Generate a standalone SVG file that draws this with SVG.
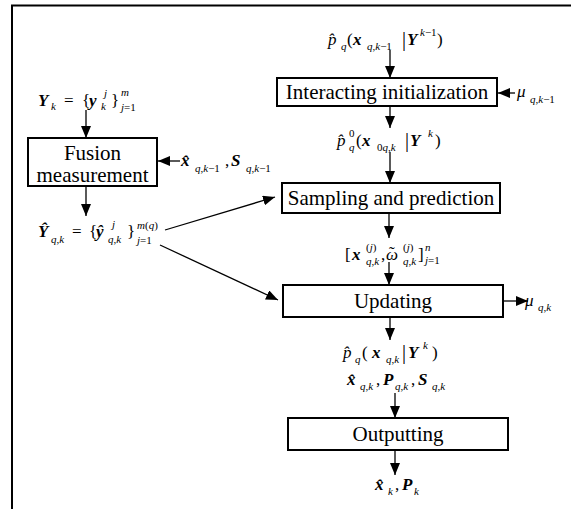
<svg xmlns="http://www.w3.org/2000/svg" width="571" height="509" viewBox="0 0 571 509">
  <style>
    .box { fill: #fff; stroke: #000; stroke-width: 2; }
    .frame { fill: none; stroke: #000; stroke-width: 2; }
    text { font-family: 'Liberation Serif', Tinos, 'Times New Roman', Times, 'DejaVu Serif', serif; fill: #000; }
    .lbl { font-size: 21px; text-anchor: middle; }
    .m { font-size: 17px; }
    .v { font-style: italic; font-weight: bold; }
    .i { font-style: italic; }
    .s { font-size: 11px; font-style: italic; font-weight: normal; }
    .u { font-style: normal; }
    .bar { font-size: 20px; }
    .wire { fill: none; stroke: #000; stroke-width: 1.3; marker-end: url(#head); }
  </style>
  <defs>
    <marker id="head" markerUnits="userSpaceOnUse" markerWidth="12" markerHeight="10" refX="12" refY="5" orient="auto">
      <path d="M0,0 L12,5 L0,10 Z" fill="#000"/>
    </marker>
  </defs>

  <rect width="571" height="509" fill="#fff"/>
  <!-- outer frame, open at right and bottom -->
  <rect class="frame" x="12" y="5.5" width="600" height="600"/>

  <!-- process blocks -->
  <g id="fusion">
    <rect class="box" x="28" y="138" width="129" height="48"/>
    <text class="lbl" x="92.5" y="160">Fusion</text>
    <text class="lbl" x="92.5" y="182">measurement</text>
  </g>
  <g id="interacting">
    <rect class="box" x="277" y="78" width="220" height="28"/>
    <text class="lbl" x="387" y="99">Interacting initialization</text>
  </g>
  <g id="sampling">
    <rect class="box" x="282" y="183" width="218" height="30"/>
    <text class="lbl" x="391" y="205">Sampling and prediction</text>
  </g>
  <g id="updating">
    <rect class="box" x="283" y="285" width="220" height="32"/>
    <text class="lbl" x="393" y="308">Updating</text>
  </g>
  <g id="outputting">
    <rect class="box" x="288" y="418" width="220" height="32"/>
    <text class="lbl" x="398" y="441">Outputting</text>
  </g>

  <!-- connectors -->
  <g id="connectors">
    <path class="wire" d="M86,110 L86,138"/>
    <path class="wire" d="M180,161 L158,161"/>
    <path class="wire" d="M86,186 L86,216"/>
    <path class="wire" d="M165,230 L275,197"/>
    <path class="wire" d="M160,245 L278,300"/>
    <path class="wire" d="M390,50 L390,78"/>
    <path class="wire" d="M515,93 L498,93"/>
    <path class="wire" d="M390,106 L390,128"/>
    <path class="wire" d="M390,152 L390,183"/>
    <path class="wire" d="M389,213 L389,238"/>
    <path class="wire" d="M389,262 L389,285"/>
    <path class="wire" d="M503,301 L528,301"/>
    <path class="wire" d="M390,317 L390,340"/>
    <path class="wire" d="M395,393 L395,418"/>
    <path class="wire" d="M395,450 L395,475"/>
  </g>

  <!-- signal labels -->
  <g id="lbl-yk">
    <text class="m">
      <tspan x="38" y="106" class="v">Y</tspan>
      <tspan x="51" y="110" class="s">k</tspan>
      <tspan x="64" y="106">=</tspan>
      <tspan x="82" y="106">{</tspan>
      <tspan x="89" y="106" class="v">y</tspan>
      <tspan x="104" y="97" class="s">j</tspan>
      <tspan x="101" y="110" class="s">k</tspan>
      <tspan x="111" y="106">}</tspan>
      <tspan x="121" y="96" class="s">m</tspan>
      <tspan x="121" y="111" class="s">j<tspan class="u">=1</tspan></tspan>
    </text>
  </g>
  <g id="lbl-prev-est">
    <text class="m">
      <tspan x="181" y="166" class="v">x̂</tspan>
      <tspan x="195" y="172" class="s">q<tspan class="u">,</tspan>k<tspan class="u">−1</tspan></tspan>
      <tspan x="225" y="166">,</tspan>
      <tspan x="231" y="166" class="v">S</tspan>
      <tspan x="246" y="172" class="s">q<tspan class="u">,</tspan>k<tspan class="u">−1</tspan></tspan>
    </text>
  </g>
  <g id="lbl-yhat">
    <text class="m">
      <tspan x="38" y="237" class="v">Ŷ</tspan>
      <tspan x="51" y="243" class="s">q<tspan class="u">,</tspan>k</tspan>
      <tspan x="72" y="237">=</tspan>
      <tspan x="89" y="237">{</tspan>
      <tspan x="96" y="237" class="v">ŷ</tspan>
      <tspan x="112" y="228" class="s">j</tspan>
      <tspan x="108" y="243" class="s">q<tspan class="u">,</tspan>k</tspan>
      <tspan x="127" y="237">}</tspan>
      <tspan x="137" y="229" class="s">m<tspan class="u">(</tspan>q<tspan class="u">)</tspan></tspan>
      <tspan x="137" y="244" class="s">j<tspan class="u">=1</tspan></tspan>
    </text>
  </g>
  <g id="lbl-prior">
    <text class="m">
      <tspan x="328" y="45" class="i">p̂</tspan>
      <tspan x="341" y="50" class="s">q</tspan>
      <tspan x="347" y="45">(</tspan>
      <tspan x="353" y="45" class="v">x</tspan>
      <tspan x="367" y="50" class="s">q<tspan class="u">,</tspan>k<tspan class="u">−1</tspan></tspan>
      <tspan x="402" y="46" class="bar">|</tspan>
      <tspan x="407" y="45" class="v">Y</tspan>
      <tspan x="420" y="36" class="s">k<tspan class="u">−1</tspan></tspan>
      <tspan x="437" y="45">)</tspan>
    </text>
  </g>
  <g id="lbl-mu-prev">
    <text class="m">
      <tspan x="517" y="97" class="i">μ</tspan>
      <tspan x="530" y="103" class="s">q<tspan class="u">,</tspan>k<tspan class="u">−1</tspan></tspan>
    </text>
  </g>
  <g id="lbl-init">
    <text class="m">
      <tspan x="337" y="146" class="i">p̂</tspan>
      <tspan x="349" y="137" class="s u">0</tspan>
      <tspan x="349" y="151" class="s">q</tspan>
      <tspan x="356" y="146">(</tspan>
      <tspan x="362" y="146" class="v">x</tspan>
      <tspan x="377" y="151" class="s"><tspan class="u">0</tspan>q<tspan class="u">,</tspan>k</tspan>
      <tspan x="405" y="147" class="bar">|</tspan>
      <tspan x="410" y="146" class="v">Y</tspan>
      <tspan x="428" y="137" class="s">k</tspan>
      <tspan x="435" y="146">)</tspan>
    </text>
  </g>
  <g id="lbl-particles">
    <text class="m">
      <tspan x="345" y="260">[</tspan>
      <tspan x="352" y="260" class="v">x</tspan>
      <tspan x="366" y="251" class="s u">(<tspan class="s">j</tspan>)</tspan>
      <tspan x="366" y="265" class="s">q<tspan class="u">,</tspan>k</tspan>
      <tspan x="381" y="260">,</tspan>
      <tspan x="386" y="260" class="i">ω</tspan>
      <tspan x="389" y="258">˜</tspan>
      <tspan x="403" y="251" class="s u">(<tspan class="s">j</tspan>)</tspan>
      <tspan x="403" y="265" class="s">q<tspan class="u">,</tspan>k</tspan>
      <tspan x="418" y="260">]</tspan>
      <tspan x="425" y="251" class="s">n</tspan>
      <tspan x="425" y="264" class="s">j<tspan class="u">=1</tspan></tspan>
    </text>
  </g>
  <g id="lbl-mu">
    <text class="m">
      <tspan x="525" y="306" class="i">μ</tspan>
      <tspan x="538" y="311" class="s">q<tspan class="u">,</tspan>k</tspan>
    </text>
  </g>
  <g id="lbl-posterior">
    <text class="m">
      <tspan x="343" y="358" class="i">p̂</tspan>
      <tspan x="355" y="363" class="s">q</tspan>
      <tspan x="362" y="358">(</tspan>
      <tspan x="372" y="358" class="v">x</tspan>
      <tspan x="386" y="363" class="s">q<tspan class="u">,</tspan>k</tspan>
      <tspan x="402" y="359" class="bar">|</tspan>
      <tspan x="408" y="358" class="v">Y</tspan>
      <tspan x="423" y="349" class="s">k</tspan>
      <tspan x="432" y="358">)</tspan>
    </text>
    <text class="m">
      <tspan x="347" y="385" class="v">x̂</tspan>
      <tspan x="360" y="390" class="s">q<tspan class="u">,</tspan>k</tspan>
      <tspan x="376" y="385">,</tspan>
      <tspan x="383" y="385" class="v">P</tspan>
      <tspan x="395" y="390" class="s">q<tspan class="u">,</tspan>k</tspan>
      <tspan x="411" y="385">,</tspan>
      <tspan x="418" y="385" class="v">S</tspan>
      <tspan x="432" y="390" class="s">q<tspan class="u">,</tspan>k</tspan>
    </text>
  </g>
  <g id="lbl-output">
    <text class="m">
      <tspan x="375" y="490" class="v">x̂</tspan>
      <tspan x="388" y="495" class="s">k</tspan>
      <tspan x="395" y="490">,</tspan>
      <tspan x="402" y="490" class="v">P</tspan>
      <tspan x="414" y="495" class="s">k</tspan>
    </text>
  </g>
</svg>
